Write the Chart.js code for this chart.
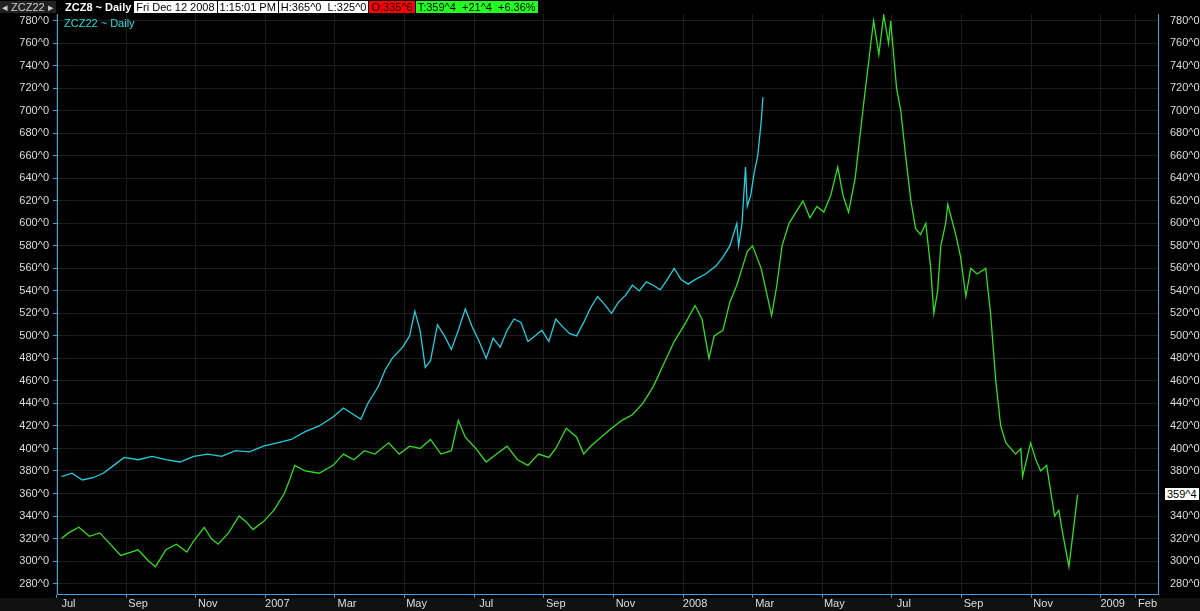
<!DOCTYPE html>
<html><head><meta charset="utf-8">
<script src="https://cdn.jsdelivr.net/npm/chart.js@4"></script>
<style>
body{margin:0;background:#000;width:1200px;height:611px;overflow:hidden;font-family:"Liberation Sans",sans-serif}
#wrap{position:absolute;left:0;top:0;width:1200px;height:611px}
#hdr{position:absolute;left:0;top:1px;display:flex;gap:1px;font-size:11px;line-height:12px;white-space:nowrap}
#hdr span{padding:0 2px}
#bar{position:absolute;left:0;top:598px;width:1200px;height:13px;background:#111}
.lbl{position:absolute;font-size:11px;line-height:12px;white-space:nowrap;padding:0 2px}
</style></head><body>
<div id="bar"></div>
<div id="wrap"><canvas id="c" width="1200" height="611"></canvas></div>
<div id="hdr">
<span style="color:#ccc;background:#222;width:52px;margin-right:6px">◂ ZCZ22 ▸</span>
<span style="color:#fff;font-weight:bold">ZCZ8 ~ Daily</span>
<span style="background:#fff;color:#000">Fri Dec 12 2008</span>
<span style="background:#fff;color:#000">1:15:01 PM</span>
<span style="background:#fff;color:#000">H:365^0&nbsp; L:325^0</span>
<span style="background:#f00;color:#000">O:335^6</span>
<span style="background:#2f2;color:#000">T:359^4&nbsp; +21^4&nbsp; +6.36%</span>
</div>
<div class="lbl" style="left:62px;top:17px;color:#2dd">ZCZ22 ~ Daily</div>
<div class="lbl" style="left:1165px;top:488px;background:#fff;color:#000">359^4</div>
<script>
// month positions of gridlines (month start, Jul 2006 = 0) in plot coordinates
const tickMonths=[-0.345,1.655,3.655,5.655,7.655,9.655,11.655,13.655,15.655,17.655,19.655,21.655,23.655,25.655,27.655,29.655,30.655];
const tickLabels=["Jul","Sep","Nov","2007","Mar","May","Jul","Sep","Nov","2008","Mar","May","Jul","Sep","Nov","2009","Feb"];
const cyanX=[-0.2,0.1,0.4,0.7,1.0,1.3,1.6,2.0,2.4,2.8,3.2,3.6,4.0,4.4,4.8,5.2,5.6,6.0,6.4,6.8,7.2,7.6,7.9,8.2,8.4,8.6,8.9,9.1,9.3,9.6,9.8,9.95,10.1,10.25,10.4,10.6,10.8,11.0,11.2,11.4,11.6,11.8,12.0,12.2,12.4,12.6,12.8,13.0,13.2,13.4,13.6,13.8,14.0,14.2,14.4,14.6,14.8,15.0,15.2,15.4,15.6,15.8,16.0,16.2,16.4,16.6,16.8,17.0,17.2,17.4,17.6,17.8,18.0,18.3,18.6,18.8,19.0,19.1,19.2,19.25,19.35,19.45,19.5,19.6,19.7,19.8,19.9,19.95];
const cyanY=[375,378,372,374,378,385,392,390,393,390,388,393,395,393,398,397,402,405,408,415,420,428,436,430,426,440,455,470,480,490,500,522,505,472,478,510,500,488,505,524,508,495,480,498,490,505,515,512,495,500,505,495,515,508,502,500,512,525,535,528,520,530,536,545,540,548,545,541,550,560,550,546,550,555,562,570,580,590,600,580,600,650,615,625,645,660,690,712];
const greenX=[-0.2,0,0.3,0.6,0.9,1.2,1.5,1.8,2.0,2.3,2.5,2.8,3.1,3.4,3.6,3.9,4.1,4.3,4.6,4.9,5.1,5.3,5.6,5.9,6.2,6.35,6.5,6.8,7.2,7.6,7.9,8.2,8.5,8.8,9.2,9.5,9.8,10.1,10.4,10.7,11.0,11.2,11.4,11.7,12.0,12.3,12.6,12.9,13.2,13.5,13.8,14.0,14.3,14.6,14.8,15.0,15.3,15.6,15.9,16.2,16.5,16.8,17.1,17.4,17.7,18.0,18.2,18.4,18.55,18.8,19.0,19.2,19.35,19.5,19.65,19.9,20.2,20.35,20.5,20.7,20.9,21.1,21.3,21.5,21.7,21.9,22.1,22.25,22.41,22.6,22.82,23.05,23.13,23.28,23.42,23.56,23.62,23.79,23.91,24.05,24.2,24.34,24.48,24.63,24.77,24.86,24.97,25.06,25.2,25.26,25.49,25.63,25.78,25.92,26.1,26.35,26.49,26.64,26.78,26.93,27.21,27.36,27.41,27.64,27.79,27.93,28.1,28.33,28.45,28.56,28.74,28.82,28.99];
const greenY=[320,325,330,322,325,315,305,308,310,300,295,310,315,308,318,330,320,315,325,340,335,328,335,345,360,372,385,380,378,385,395,390,398,395,405,395,402,400,408,395,398,425,410,400,388,395,402,390,385,395,392,400,418,410,395,402,410,418,425,430,440,455,475,495,510,527,515,480,500,505,530,545,560,575,580,560,518,545,580,600,610,620,605,615,610,625,650,625,610,640,700,760,780,750,785,760,780,720,700,660,620,595,590,600,560,520,540,580,600,617,590,570,535,560,555,560,520,460,420,405,395,400,375,405,390,380,385,340,345,325,295,315,359];
const pts=(xs,ys)=>xs.map((x,i)=>({x,y:ys[i]}));
const fmt=v=>v+"^0";
const yOpts=(pos,w)=>({type:'linear',position:pos,min:270,max:786,
  afterBuildTicks:a=>{a.ticks=[];for(let v=280;v<=780;v+=20)a.ticks.push({value:v});},
  afterFit:a=>{a.width=w;},
  ticks:{color:'#ddd',font:{size:11,family:'Liberation Sans'},callback:fmt,padding:4},
  grid:{color:'#1e1e1e',drawTicks:true,tickLength:4,tickColor:'#3aa0e0'},
  border:{color:'#3aa0e0'}});
new Chart(document.getElementById('c'),{
 type:'line',
 data:{datasets:[
  {data:pts(cyanX,cyanY),borderColor:'#22cfdf',borderWidth:1.3,pointRadius:0,tension:0,yAxisID:'y'},
  {data:pts(greenX,greenY),borderColor:'#33dd22',borderWidth:1.3,pointRadius:0,tension:0,yAxisID:'y'}
 ]},
 options:{responsive:false,animation:false,layout:{padding:{top:14,left:0,right:0,bottom:0}},
  plugins:{legend:{display:false},tooltip:{enabled:false}},
  scales:{
   x:{type:'linear',min:-0.33,max:31.3,
     afterBuildTicks:a=>{a.ticks=tickMonths.map(v=>({value:v}));},
     ticks:{color:'#ddd',font:{size:11,family:'Liberation Sans'},autoSkip:false,maxRotation:0,padding:0,labelOffset:12,
       callback:(v,i)=>tickLabels[i]},
     grid:{color:'#1e1e1e',tickLength:3,tickColor:'#3aa0e0'},border:{color:'#3aa0e0'}},
   y:yOpts('left',57),
   y2:Object.assign(yOpts('right',42),{grid:{display:false},border:{color:'#3aa0e0'}})
  }}
});
</script></body></html>
